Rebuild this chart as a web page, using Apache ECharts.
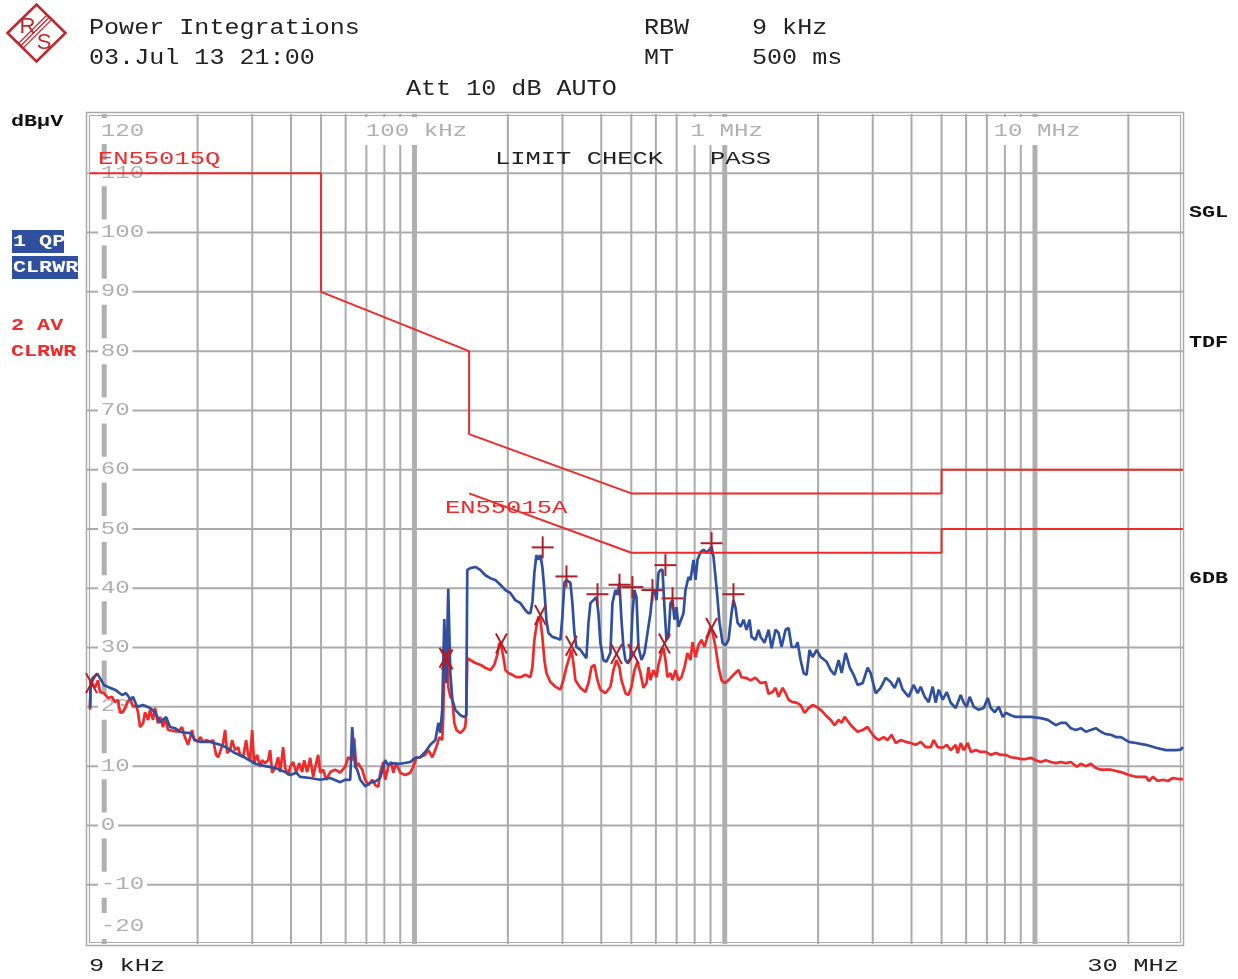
<!DOCTYPE html>
<html><head><meta charset="utf-8">
<script src="https://cdn.jsdelivr.net/npm/echarts@6/dist/echarts.min.js"></script>
<style>html,body{margin:0;padding:0;background:#fff}#c{width:1238px;height:979px}</style>
</head><body><div id="c"></div>
<script>
// ---------- DATA (frequency in kHz, level in dBµV) ----------
const yTicks = [120,110,100,90,80,70,60,50,40,30,20,10,0,-10,-20];
const gridFreqs = [10,20,30,40,50,60,70,80,90,100,200,300,400,500,600,700,800,900,1000,2000,3000,4000,5000,6000,7000,8000,9000,10000,20000];
const decadeFreqs = [10,100,1000,10000];
const topLabelFreqs = [100,1000,10000];
const topLabelTexts = ['100 kHz','1 MHz','10 MHz'];

const qpLimit = [[9,110],[50,110],[50,90],[150,80],[150,66],[500,56],[5000,56],[5000,60],[30000,60]];
const avLimit = [[150,56],[500,46],[5000,46],[5000,50],[30000,50]];

const qpTrace = [[9.0,19.8],[9.05,24.4],[9.2,24.9],[9.5,25.6],[9.98,23.7],[10.44,23.2],[10.83,22.9],[11.42,22.0],[11.76,22.3],[12.2,21.2],[12.38,21.7],[12.76,20.0],[13.34,20.3],[14.05,19.8],[14.58,19.1],[15.14,17.4],[15.83,18.3],[16.3,16.6],[16.92,16.4],[17.56,15.8],[18.36,15.6],[18.92,15.6],[19.64,14.4],[20.38,14.1],[21.95,14.1],[23.64,13.6],[24.9,13.1],[26.4,12.2],[28.5,11.4],[30.7,10.4],[33.0,10.0],[35.6,9.7],[38.3,9.0],[39.76,8.5],[41.6,8.9],[42.82,8.2],[46.12,8.0],[49.68,7.7],[53.51,8.0],[57.64,7.3],[59.8,7.7],[62.08,7.7],[63.0,16.6],[64.4,9.9],[65.4,9.4],[66.87,7.7],[69.4,6.6],[72.02,7.2],[74.7,7.4],[77.58,8.0],[80.5,11.0],[82.3,10.2],[83.56,10.5],[90,10.4],[96.94,10.7],[100.6,11.4],[104.4,11.5],[108.3,12.4],[112.5,13.6],[116.8,14.4],[119.4,17.3],[121.1,15.6],[122.9,19.5],[124.8,34.8],[126.6,24.0],[128.5,39.9],[130.5,25.7],[132.5,21.2],[135.4,19.5],[140.5,18.6],[144.7,18.3],[146.9,18.6],[148.0,43.1],[151.4,43.4],[157.1,43.6],[163.0,43.1],[169.2,42.2],[175.6,41.7],[182.2,41.4],[189.2,40.6],[196.4,39.7],[203.7,39.2],[211.4,38.0],[219.5,37.5],[227.8,36.3],[232.9,35.8],[236.4,35.8],[240.0,37.7],[243.5,42.6],[247.2,45.6],[250.9,44.8],[254.6,45.6],[258.4,43.6],[262.3,39.7],[266.2,34.7],[270.2,32.5],[278.3,31.8],[286.7,31.6],[295.4,31.3],[299.8,35.2],[304.3,40.9],[308.9,41.4],[313.5,41.1],[318.1,40.9],[322.9,37.5],[327.7,32.5],[332.6,30.1],[342.7,29.6],[358.3,28.2],[363.7,34.1],[369.1,37.5],[377.4,38.0],[385.9,38.5],[391.7,35.8],[397.5,30.8],[406.4,27.9],[415.6,27.6],[428.2,29.1],[434.6,37.5],[444.4,39.7],[451.0,38.9],[457.8,40.9],[464.7,34.7],[471.6,30.1],[478.6,27.9],[485.8,27.4],[496.8,28.2],[504.3,35.8],[511.8,39.7],[519.5,38.5],[527.2,30.1],[539.1,27.9],[551.3,29.1],[559.5,31.3],[576.4,35.8],[585.0,39.2],[593.8,39.7],[602.7,38.0],[611.7,42.6],[620.8,43.1],[630.1,43.1],[639.5,36.8],[649.1,31.3],[658.8,31.8],[668.7,37.5],[678.7,38.0],[688.9,34.7],[699.2,36.8],[709.6,33.5],[720.2,33.3],[736.4,35.8],[747.4,39.7],[764.3,41.9],[775.8,41.4],[793.3,44.8],[805.1,41.4],[817.2,44.8],[835.6,46.1],[854.4,46.5],[873.7,46.0],[893.3,46.5],[906.7,47.0],[920.3,45.3],[941,40.2],[962.2,34.2],[983.9,30.8],[1006,30.4],[1029,31.3],[1052,35.8],[1067,38.0],[1083,36.8],[1100,34.2],[1125,33.5],[1150,34.7],[1176,33.0],[1203,34.7],[1220,31.8],[1257,31.3],[1285,33.0],[1305,31.8],[1344,30.8],[1385,33.0],[1416,29.9],[1458,33.0],[1491,32.5],[1525,30.1],[1571,33.0],[1607,33.3],[1643,30.1],[1693,30.1],[1718,30.9],[1756,27.9],[1796,25.7],[1836,25.4],[1877,29.6],[1920,28.4],[1978,29.6],[2038,28.4],[2131,27.6],[2195,26.2],[2261,25.4],[2329,27.9],[2382,25.7],[2453,29.1],[2527,26.7],[2603,25.4],[2682,23.7],[2783,24.0],[2888,26.6],[2954,25.7],[3066,22.3],[3181,23.2],[3301,24.9],[3427,24.2],[3530,23.2],[3637,24.9],[3746,22.9],[3917,21.7],[4064,23.7],[4187,22.3],[4282,23.4],[4411,21.7],[4544,20.8],[4681,23.4],[4786,20.7],[4894,22.9],[5043,21.2],[5195,22.5],[5351,20.7],[5553,19.8],[5763,22.0],[5893,20.7],[6026,20.0],[6161,21.7],[6348,20.0],[6588,19.5],[6837,19.8],[7043,21.5],[7202,19.8],[7419,19.1],[7643,20.0],[7874,18.3],[8051,19.0],[8356,18.6],[8672,18.3],[9135,18.3],[9694,18.3],[10441,18.1],[10997,17.8],[11671,16.9],[12113,17.3],[12571,17.3],[13047,16.4],[13540,16.1],[14053,16.4],[14584,15.8],[15137,16.1],[15709,16.4],[16304,15.8],[16920,15.4],[17561,15.3],[18225,14.9],[18915,14.9],[20073,14.1],[21144,13.9],[22775,13.6],[24530,13.1],[26422,12.7],[28460,12.7],[29500,12.8],[30000,13.2]];

const avTrace = [[9.0,19.5],[9.05,24.5],[9.15,24.0],[9.34,23.2],[9.55,24.5],[9.69,22.5],[9.98,22.3],[10.28,21.5],[10.6,21.7],[10.83,20.8],[11.08,21.2],[11.25,19.0],[11.5,19.1],[11.76,20.3],[12.11,21.5],[12.38,20.0],[12.66,20.3],[12.85,19.1],[13.05,16.6],[13.34,17.2],[13.54,19.1],[13.85,17.8],[14.05,19.5],[14.37,17.8],[14.58,19.8],[14.91,17.2],[15.14,18.3],[15.48,16.6],[15.71,18.1],[16.07,16.1],[16.3,15.8],[16.92,15.9],[17.3,15.8],[17.82,16.6],[18.09,15.3],[18.36,14.4],[18.63,13.6],[18.92,14.8],[19.2,16.1],[19.49,14.4],[20.08,14.1],[20.38,14.9],[20.84,14.1],[21.31,14.4],[21.95,14.1],[22.44,14.4],[22.95,11.9],[23.29,11.5],[23.64,12.4],[24.17,13.9],[24.53,16.1],[24.9,12.2],[25.46,12.7],[25.84,14.4],[26.42,12.7],[27.02,13.2],[27.42,11.9],[28.04,11.5],[28.67,14.4],[29.1,11.9],[29.54,11.0],[29.98,16.1],[30.43,10.5],[31.11,11.9],[31.81,9.9],[32.29,11.0],[33.01,10.5],[33.76,11.0],[34.27,12.7],[34.78,8.9],[35.57,9.7],[36.37,11.5],[36.91,9.0],[37.74,13.2],[38.31,9.7],[39.17,8.5],[39.76,9.9],[40.66,10.7],[41.57,8.9],[42.51,10.5],[43.46,9.0],[44.11,11.0],[45.1,9.0],[46.12,11.4],[47.16,8.2],[48.22,10.5],[48.94,11.9],[49.68,8.9],[50.8,9.4],[51.95,7.7],[53.51,9.0],[55.53,9.4],[57.64,8.9],[59.82,9.9],[61.17,11.5],[63.01,11.0],[63.95,14.7],[64.91,9.9],[65.88,10.5],[67.87,9.4],[69.4,7.7],[70.96,6.8],[73.1,7.7],[74.74,6.8],[76.43,6.5],[77.58,8.9],[79.33,10.7],[80.51,7.7],[82.33,9.9],[84.19,10.7],[85.44,8.9],[87.37,10.5],[90,8.9],[93.4,8.5],[96.94,8.9],[99.12,9.9],[101.4,11.4],[104.4,11.5],[108.3,11.9],[110.8,12.7],[114.2,11.5],[117.6,13.2],[120.3,14.9],[122.9,14.4],[123.8,18.3],[124.8,27.9],[126.6,26.2],[127.6,30.1],[128.5,23.4],[130.5,21.7],[132.5,21.2],[134.4,17.3],[136.5,16.1],[140.5,15.6],[143.7,16.1],[145.8,16.6],[146.9,19.0],[148.0,28.2],[151.4,27.9],[157.1,27.4],[163,27.1],[169.2,26.6],[175.6,26.2],[180.9,27.1],[185,28.8],[187.7,30.8],[190.6,30.1],[193.5,28.4],[196.4,26.2],[200.8,25.7],[206.8,25.4],[213,25.0],[219.5,25.0],[227.8,25.4],[231.2,25.4],[236.4,25.0],[240,26.7],[243.5,31.3],[247.2,33.5],[250.9,35.2],[254.6,34.7],[258.4,31.8],[262.3,27.9],[266.2,25.7],[274.2,24.2],[284.6,23.4],[295.4,22.9],[302,24.5],[308.9,26.7],[315.8,28.4],[320.5,29.6],[325.3,27.4],[330.1,24.5],[342.7,23.2],[355.7,22.5],[363.7,24.0],[371.9,26.7],[380.3,27.1],[388.8,24.5],[397.5,22.9],[412.5,22.3],[428.2,23.4],[437.8,26.2],[447.7,27.9],[457.8,26.7],[464.7,24.5],[478.6,22.3],[489.4,22.0],[500.5,23.4],[511.8,26.2],[523.3,27.6],[535.1,25.7],[547.1,23.2],[559.5,24.0],[567.9,26.7],[576.4,24.5],[589.4,26.2],[602.7,25.0],[611.7,27.1],[625.4,29.1],[634.8,29.9],[644.3,27.9],[653.9,25.0],[668.7,25.7],[678.7,24.5],[694,26.2],[709.6,24.5],[725.6,25.0],[742,26.7],[758.6,29.1],[775.8,27.9],[787.4,30.9],[805.1,28.4],[823.3,30.4],[841.9,31.3],[860.8,30.1],[880.1,31.8],[900,33.5],[913.5,32.6],[934,30.1],[955.1,26.7],[976.7,24.5],[998.7,24.0],[1029,24.5],[1067,25.4],[1108,26.2],[1133,25.0],[1168,24.9],[1211,24.5],[1257,24.9],[1305,24.0],[1354,24.2],[1385,22.2],[1426,22.5],[1458,23.2],[1491,21.7],[1537,23.2],[1571,22.3],[1607,21.2],[1655,20.8],[1705,20.7],[1756,20.3],[1809,19.0],[1863,19.8],[1920,20.3],[1978,20.0],[2038,19.5],[2115,18.6],[2195,17.8],[2261,16.9],[2329,17.8],[2382,17.3],[2435,18.3],[2509,17.4],[2584,16.6],[2682,15.8],[2783,16.1],[2888,16.6],[2954,15.8],[3043,14.9],[3135,14.4],[3253,14.9],[3351,14.4],[3453,15.3],[3557,13.9],[3691,14.4],[3831,14.1],[3975,13.9],[4125,13.6],[4282,14.1],[4444,13.2],[4612,13.2],[4716,14.4],[4858,13.2],[5043,13.1],[5195,13.6],[5351,12.7],[5553,13.6],[5636,12.2],[5763,13.9],[5893,12.7],[6070,13.9],[6208,12.4],[6443,12.7],[6687,12.4],[6940,12.4],[7202,11.9],[7474,12.2],[7758,11.9],[8051,11.9],[8356,11.5],[8672,11.4],[9000,11.2],[9340,11.2],[9694,11.4],[10061,11.0],[10441,10.7],[10836,11.0],[11246,10.7],[11671,10.5],[12113,10.7],[12571,10.5],[13047,10.7],[13642,9.9],[14053,10.4],[14584,10.0],[15137,10.4],[15709,9.7],[16304,9.4],[17561,9.4],[18915,9.0],[20073,8.5],[21144,8.2],[22775,8.2],[23288,7.5],[23992,8.2],[24897,7.5],[25842,7.7],[26817,7.5],[27834,8.0],[29101,7.8],[30000,7.8]];

const qpPeaks = [[259,46.9],[309,42.0],[389,39.0],[458,40.6],[504,40.2],[585,39.7],[644,43.9],[679,38.3],[907,47.6],[1067,39.0]];
const avPeaks = [[9.1,24.0],[125.5,28.3],[127.5,28.0],[190.6,30.7],[254.6,35.5],[320.5,30.3],[448,28.9],[508,28.9],[639.5,30.7],[907,33.3]];

// ---------- STYLE ----------
const MONO = '"Liberation Mono","Courier New",monospace';
const GRID = '#ababab', LBL = '#b0b0b0', BLUE = '#2f4f9f', RED = '#ee2a2a', MK = '#b01e2a', LOGO = '#c0282d';

function txt(text, x, y, size, sx, color, o) {
  o = o || {};
  const al = o.align || 'left';
  return {type:'text', x:x, y:y, scaleX:sx, z:50, silent:true,
    style:{text:text, x:0, y:0, fill:color, font:(o.bold?'bold ':'') + size + 'px ' + MONO,
      textAlign:al, align:al, textVerticalAlign:'middle', verticalAlign:'middle'}};
}
function boxTxt(text, x, y, w, h, size, sx) {
  return [{type:'rect', z:49, silent:true, shape:{x:x, y:y, width:w, height:h}, style:{fill:BLUE}},
          txt(text, x + 1, y + h/2 + 0.5, size, sx, '#ffffff', {bold:true})];
}
function logoText(t, x, y) {
  return {type:'text', z:50, silent:true, x:x, y:y, scaleX:1.3, scaleY:1.3,
    style:{text:t, x:0, y:0, fill:LOGO, font:'17px "Liberation Sans",Arial,sans-serif',
      textAlign:'center', align:'center', textVerticalAlign:'middle', verticalAlign:'middle'}};
}

const graphics = [
  // frame (double line)
  {type:'rect', z:1, silent:true, shape:{x:86.5, y:112.5, width:1097, height:833}, style:{fill:'none', stroke:GRID, lineWidth:1.5}},
  {type:'rect', z:1, silent:true, shape:{x:89.5, y:115.5, width:1091, height:827}, style:{fill:'none', stroke:GRID, lineWidth:1.2}},
  // logo
  {type:'polygon', z:50, silent:true, shape:{points:[[7.5,33],[36.5,4.5],[65.5,33],[36.5,61.5]]}, style:{fill:'none', stroke:LOGO, lineWidth:2.6}},
  {type:'line', z:50, silent:true, shape:{x1:18, y1:44, x2:47, y2:15}, style:{stroke:LOGO, lineWidth:1.3}},
  {type:'line', z:50, silent:true, shape:{x1:20.3, y1:46.3, x2:49.3, y2:17.3}, style:{stroke:LOGO, lineWidth:1.3}},
  {type:'line', z:50, silent:true, shape:{x1:22.6, y1:48.6, x2:51.6, y2:19.6}, style:{stroke:LOGO, lineWidth:1.3}},
  logoText('R', 27.5, 27),
  logoText('S', 44, 43),
  // header
  txt('Power Integrations', 89, 28, 22, 1.14, '#222'),
  txt('03.Jul 13 21:00', 89, 58, 22, 1.14, '#222'),
  txt('RBW', 644, 28, 22, 1.14, '#222'),
  txt('9 kHz', 752, 28, 22, 1.14, '#222'),
  txt('MT', 644, 58, 22, 1.14, '#222'),
  txt('500 ms', 752, 58, 22, 1.14, '#222'),
  txt('Att 10 dB AUTO', 406, 89, 22, 1.14, '#222'),
  // left side labels
  txt('dBµV', 11, 122, 17, 1.28, '#111', {bold:true}),
  ...boxTxt('1 QP', 12, 230, 52, 23, 17, 1.28),
  ...boxTxt('CLRWR', 12, 256, 66, 23, 17, 1.28),
  txt('2 AV', 11, 326, 17, 1.28, RED, {bold:true}),
  txt('CLRWR', 11, 352, 17, 1.28, RED, {bold:true}),
  // right side labels
  txt('SGL', 1189, 213, 17, 1.28, '#111', {bold:true}),
  txt('TDF', 1189, 343, 17, 1.28, '#111', {bold:true}),
  txt('6DB', 1189, 579, 17, 1.28, '#111', {bold:true}),
  // in-plot annotations
  txt('EN55015Q', 98, 159, 19, 1.34, RED),
  txt('EN55015A', 445, 508, 19, 1.34, RED),
  txt('LIMIT CHECK', 495, 159, 19, 1.34, '#222'),
  txt('PASS', 710, 159, 19, 1.34, '#222'),
  // bottom
  txt('9 kHz', 89, 966, 19, 1.34, '#222'),
  txt('30 MHz', 1179, 966, 19, 1.34, '#222', {align:'right'})
];

const chart = echarts.init(document.getElementById('c'), null, {renderer:'canvas'});
chart.setOption({
  animation:false,
  backgroundColor:'#ffffff',
  grid:{left:90, right:55, top:114, bottom:35, show:false},
  xAxis:{type:'log', logBase:10, min:9, max:30000, axisLine:{show:false}, axisTick:{show:false}, axisLabel:{show:false}, splitLine:{show:false}},
  yAxis:{type:'value', min:-20, max:120, interval:10, axisLine:{show:false}, axisTick:{show:false}, axisLabel:{show:false}, splitLine:{show:false}},
  graphic:{elements:graphics},
  series:[
    { // horizontal grid lines
      type:'custom', z:1, silent:true, encode:{x:0, y:1},
      data: yTicks.filter(v => v > -20 && v < 120).map(v => [9, v]),
      renderItem:(p, api) => {
        const a = api.coord([9, api.value(1)]), b = api.coord([30000, api.value(1)]);
        return {type:'line', shape:{x1:a[0]-3, y1:a[1], x2:b[0], y2:b[1]}, style:{stroke:GRID, lineWidth:2}};
      }
    },
    { // vertical grid lines
      type:'custom', z:1, silent:true, encode:{x:0, y:1},
      data: gridFreqs.map(f => [f, 0]),
      renderItem:(p, api) => {
        const f = api.value(0);
        const a = api.coord([f, 120]), b = api.coord([f, -20]);
        const thick = decadeFreqs.indexOf(f) >= 0;
        return {type:'line', shape:{x1:a[0], y1:a[1], x2:b[0], y2:b[1]}, style:{stroke: thick ? '#b0b0b0' : GRID, lineWidth: thick ? 5 : 2}};
      }
    },
    { // y tick labels
      type:'custom', z:2, silent:true, encode:{x:0, y:1},
      data: yTicks.map(v => [9, v]),
      renderItem:(p, api) => {
        const v = api.value(1);
        const c = api.coord([9, v]);
        const dy = v === 120 ? 17 : (v === -20 ? -18 : 0);
        return {type:'text', x:c[0] + 8, y:c[1] + dy, scaleX:1.38,
          style:{text:String(v), x:0, y:0, fill:LBL, font:'17.5px ' + MONO,
            textAlign:'left', align:'left', textVerticalAlign:'middle', verticalAlign:'middle',
            backgroundColor:'#ffffff', textBackgroundColor:'#ffffff', padding:[4,2], textPadding:[4,2]}};
      }
    },
    { // decade labels at top
      type:'custom', z:2, silent:true, encode:{x:0, y:1},
      data: topLabelFreqs.map(f => [f, 120]),
      renderItem:(p, api) => {
        const c = api.coord([api.value(0), 120]);
        return {type:'text', x:c[0] + 2, y:c[1] + 17, scaleX:1.38,
          style:{text:topLabelTexts[p.dataIndex], x:0, y:0, fill:LBL, font:'17.5px ' + MONO,
            textAlign:'center', align:'center', textVerticalAlign:'middle', verticalAlign:'middle',
            backgroundColor:'#ffffff', textBackgroundColor:'#ffffff', padding:[5,3], textPadding:[5,3]}};
      }
    },
    {type:'line', name:'2 AV', z:3, data:avTrace, showSymbol:false, symbol:'none', lineStyle:{color:RED, width:2.7}, silent:true},
    {type:'line', name:'1 QP', z:4, data:qpTrace, showSymbol:false, symbol:'none', lineStyle:{color:BLUE, width:2.7}, silent:true},
    {type:'line', name:'EN55015Q', z:5, data:qpLimit, showSymbol:false, symbol:'none', lineStyle:{color:RED, width:2}, silent:true},
    {type:'line', name:'EN55015A', z:5, data:avLimit, showSymbol:false, symbol:'none', lineStyle:{color:RED, width:2}, silent:true},
    { // QP peak markers (+)
      type:'custom', z:6, silent:true, encode:{x:0, y:1}, data:qpPeaks,
      renderItem:(p, api) => {
        const c = api.coord([api.value(0), api.value(1)]);
        return {type:'group', children:[
          {type:'line', shape:{x1:c[0]-11, y1:c[1], x2:c[0]+11, y2:c[1]}, style:{stroke:MK, lineWidth:2}},
          {type:'line', shape:{x1:c[0], y1:c[1]-11, x2:c[0], y2:c[1]+11}, style:{stroke:MK, lineWidth:2}}]};
      }
    },
    { // AV peak markers (x)
      type:'custom', z:6, silent:true, encode:{x:0, y:1}, data:avPeaks,
      renderItem:(p, api) => {
        const c = api.coord([api.value(0), api.value(1)]);
        return {type:'group', children:[
          {type:'line', shape:{x1:c[0]-5.5, y1:c[1]-10, x2:c[0]+5.5, y2:c[1]+10}, style:{stroke:MK, lineWidth:2}},
          {type:'line', shape:{x1:c[0]+5.5, y1:c[1]-10, x2:c[0]-5.5, y2:c[1]+10}, style:{stroke:MK, lineWidth:2}}]};
      }
    }
  ]
});
</script>
</body></html>
